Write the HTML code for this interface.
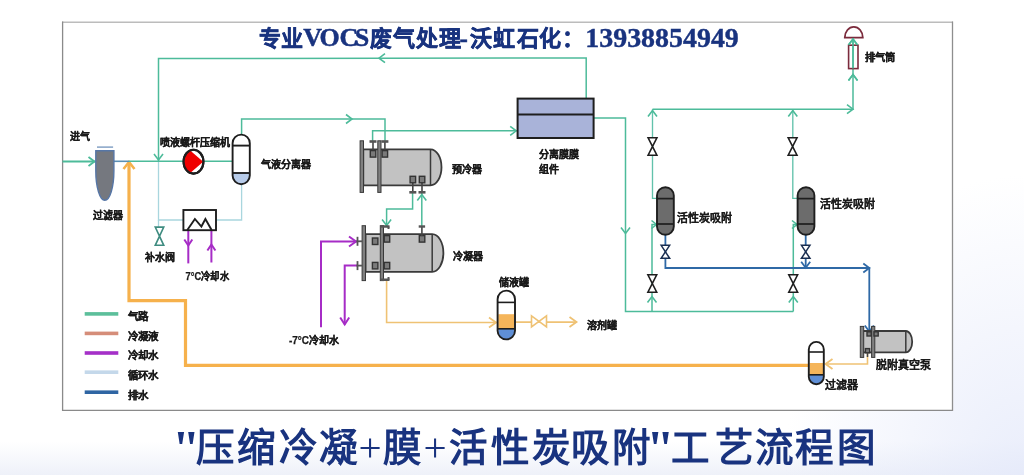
<!DOCTYPE html>
<html lang="zh-CN"><head><meta charset="utf-8"><title>工艺流程图</title>
<style>
html,body{margin:0;padding:0;}
body{width:1024px;height:475px;overflow:hidden;position:relative;background:#fff;font-family:"Liberation Sans",sans-serif;}
.bg{position:absolute;left:0;top:0;width:1024px;height:475px;background:linear-gradient(180deg,#ffffff 0%,#ffffff 93%,#eef1f9 100%);}
.bg2{position:absolute;left:0;top:0;width:1024px;height:475px;background:radial-gradient(ellipse 240px 300px at 1024px 475px,rgba(228,233,250,0.8),rgba(255,255,255,0));}
svg{position:absolute;left:0;top:0;will-change:transform;}
</style></head><body>
<div class="bg"></div><div class="bg2"></div>
<svg width="1024" height="475" viewBox="0 0 1024 475">
<rect x="62.5" y="22.2" width="890" height="388.2" fill="#fff" stroke="none"/>
<line x1="62" y1="22.2" x2="953" y2="22.2" stroke="#bcbcbc" stroke-width="1.5"/>
<line x1="62.6" y1="21.6" x2="62.6" y2="411" stroke="#8a8a8a" stroke-width="1.3"/>
<line x1="62" y1="410.4" x2="953" y2="410.4" stroke="#8a8a8a" stroke-width="1.3"/>
<line x1="952.5" y1="21.6" x2="952.5" y2="411" stroke="#8e8e8e" stroke-width="1.3"/>
<text x="259.1 281.4" y="46.4" font-family='"Liberation Serif",serif' font-size="22" font-weight="bold" fill="#19337f" stroke="#19337f" stroke-width="0.5">专业</text>
<text x="303.2 319.4 339.4 354.8" y="46.4" font-family='"Liberation Serif",serif' font-size="26" font-weight="bold" fill="#19337f" stroke="#19337f" stroke-width="0.5">VOCS</text>
<text x="370.4 392.7 415.5 438.5" y="46.4" font-family='"Liberation Serif",serif' font-size="22" font-weight="bold" fill="#19337f" stroke="#19337f" stroke-width="0.5">废气处理</text>
<text x="459.4" y="46.6" font-family='"Liberation Serif",serif' font-size="25" font-weight="bold" fill="#19337f" stroke="#19337f" stroke-width="0.5">-</text>
<text x="470.2 493.4 516.5 538.6" y="46.4" font-family='"Liberation Serif",serif' font-size="22" font-weight="bold" fill="#19337f" stroke="#19337f" stroke-width="0.5">沃虹石化</text>
<text x="561.5" y="46.4" font-family='"Liberation Serif",serif' font-size="22" font-weight="bold" fill="#19337f" stroke="#19337f" stroke-width="0.5">：</text>
<text x="585.3" y="46.7" font-family='"Liberation Serif",serif' font-size="27" font-weight="bold" fill="#19337f" stroke="#19337f" stroke-width="0.4" textLength="153.5" lengthAdjust="spacingAndGlyphs">13938854949</text>
<text x="172.2" y="464.5" font-family='"Liberation Serif",serif' font-size="50" font-weight="bold" fill="#19337f">"</text>
<text x="196.0 236.6 278.6 319.2" y="460.8" font-family='"Liberation Serif",serif' font-size="38.5" font-weight="bold" fill="#19337f">压缩冷凝</text>
<text x="358.5" y="460.8" font-family='"Liberation Serif",serif' font-size="41" font-weight="normal" fill="#19337f">+</text>
<text x="382.5" y="460.8" font-family='"Liberation Serif",serif' font-size="38.5" font-weight="bold" fill="#19337f">膜</text>
<text x="423.5" y="460.8" font-family='"Liberation Serif",serif' font-size="41" font-weight="normal" fill="#19337f">+</text>
<text x="449.3 491.0 532.1 570.8 612.3" y="460.8" font-family='"Liberation Serif",serif' font-size="38.5" font-weight="bold" fill="#19337f">活性炭吸附</text>
<text x="646.4" y="464.5" font-family='"Liberation Serif",serif' font-size="50" font-weight="bold" fill="#19337f">"</text>
<text x="671.1 714.8 754.8 795.3 836.5" y="460.8" font-family='"Liberation Serif",serif' font-size="38.5" font-weight="bold" fill="#19337f">工艺流程图</text>
<rect x="84.7" y="312.09999999999997" width="33.6" height="3.6" fill="#5cbf9b"/>
<text x="128" y="320.2" font-family='"Liberation Sans",sans-serif' font-size="10.5" font-weight="bold" fill="#1a1a1a" stroke="#1a1a1a" stroke-width="0.25">气路</text>
<rect x="84.7" y="331.59999999999997" width="33.6" height="3.6" fill="#d58d79"/>
<text x="128" y="339.7" font-family='"Liberation Sans",sans-serif' font-size="10.5" font-weight="bold" fill="#1a1a1a" stroke="#1a1a1a" stroke-width="0.25">冷凝液</text>
<rect x="84.7" y="351.2" width="33.6" height="3.6" fill="#a530c8"/>
<text x="128" y="359.3" font-family='"Liberation Sans",sans-serif' font-size="10.5" font-weight="bold" fill="#1a1a1a" stroke="#1a1a1a" stroke-width="0.25">冷却水</text>
<rect x="84.7" y="370.4" width="33.6" height="3.6" fill="#c4d8ea"/>
<text x="128" y="378.5" font-family='"Liberation Sans",sans-serif' font-size="10.5" font-weight="bold" fill="#1a1a1a" stroke="#1a1a1a" stroke-width="0.25">循环水</text>
<rect x="84.7" y="390.4" width="33.6" height="3.6" fill="#2f65a3"/>
<text x="128" y="398.5" font-family='"Liberation Sans",sans-serif' font-size="10.5" font-weight="bold" fill="#1a1a1a" stroke="#1a1a1a" stroke-width="0.25">排水</text>
<path d="M158.5,161 L158.5,220 L183.3,220" fill="none" stroke="#a9d6de" stroke-width="1.3" stroke-linejoin="miter" />
<path d="M158.5,220 L158.5,227" fill="none" stroke="#a9d6de" stroke-width="1.3" stroke-linejoin="miter" />
<path d="M241.6,184 L241.6,220 L216,220" fill="none" stroke="#a9d6de" stroke-width="1.3" stroke-linejoin="miter" />
<path d="M129,163 L129,300.6 L185.5,300.6 L185.5,365.3 L809,365.3" fill="none" stroke="#f6b14c" stroke-width="3.2" stroke-linejoin="miter" />
<path d="M123.5,169 L129,162 L134.5,169" fill="none" stroke="#f6b14c" stroke-width="2.6" stroke-linejoin="miter" />
<path d="M62.5,161.5 L95.5,161.5" fill="none" stroke="#4dbb9a" stroke-width="1.8" stroke-linejoin="miter" />
<path d="M88.5,157.0 L94.5,161.5 L88.5,166.0" fill="none" stroke="#4dbb9a" stroke-width="1.8" stroke-linejoin="miter" />
<path d="M114,161.3 L129,161.3" fill="none" stroke="#5a8fb4" stroke-width="1.6" stroke-linejoin="miter" />
<path d="M129,161.3 L232.5,161.3" fill="none" stroke="#4dbb9a" stroke-width="1.5" stroke-linejoin="miter" />
<path d="M158.5,161 L158.5,58.5 L586.2,58 L586.2,98.5" fill="none" stroke="#4dbb9a" stroke-width="1.5" stroke-linejoin="miter" />
<path d="M154.0,154 L158.5,160 L163.0,154" fill="none" stroke="#4dbb9a" stroke-width="1.6" stroke-linejoin="miter" />
<path d="M385,53.7 L379,58.2 L385,62.7" fill="none" stroke="#4dbb9a" stroke-width="1.6" stroke-linejoin="miter" />
<path d="M241.6,134.5 L241.6,119 L385,119 L385,141" fill="none" stroke="#4dbb9a" stroke-width="1.5" stroke-linejoin="miter" />
<path d="M346,114.5 L352,119 L346,123.5" fill="none" stroke="#4dbb9a" stroke-width="1.6" stroke-linejoin="miter" />
<path d="M372.6,141 L372.6,130.8 L516.5,130.8" fill="none" stroke="#4dbb9a" stroke-width="1.5" stroke-linejoin="miter" />
<path d="M510.20000000000005,126.30000000000001 L516.2,130.8 L510.20000000000005,135.3" fill="none" stroke="#4dbb9a" stroke-width="1.6" stroke-linejoin="miter" />
<path d="M594,118 L625.5,118 L625.5,311.6 L793.3,311.6" fill="none" stroke="#4dbb9a" stroke-width="1.5" stroke-linejoin="miter" />
<path d="M621.0,227.4 L625.5,233.4 L630.0,227.4" fill="none" stroke="#4dbb9a" stroke-width="1.6" stroke-linejoin="miter" />
<path d="M652.5,109.2 L652.5,198.4 L657,198.4" fill="none" stroke="#62c2ab" stroke-width="1.35" stroke-linejoin="miter" />
<path d="M652,311.6 L652,224.5 L657,224.5" fill="none" stroke="#4dbb9a" stroke-width="1.5" stroke-linejoin="miter" />
<path d="M651.5,220.5 L656.5,224.5 L651.5,228.5" fill="none" stroke="#4dbb9a" stroke-width="1.6" stroke-linejoin="miter" />
<path d="M647.5,302.5 L652,296.5 L656.5,302.5" fill="none" stroke="#4dbb9a" stroke-width="1.6" stroke-linejoin="miter" />
<path d="M792.8,109.2 L792.8,198.4 L797.5,198.4" fill="none" stroke="#62c2ab" stroke-width="1.35" stroke-linejoin="miter" />
<path d="M793.3,311.6 L793.3,224.5 L797.5,224.5" fill="none" stroke="#4dbb9a" stroke-width="1.5" stroke-linejoin="miter" />
<path d="M792,220.5 L797,224.5 L792,228.5" fill="none" stroke="#4dbb9a" stroke-width="1.6" stroke-linejoin="miter" />
<path d="M788.8,302.5 L793.3,296.5 L797.8,302.5" fill="none" stroke="#4dbb9a" stroke-width="1.6" stroke-linejoin="miter" />
<path d="M652.5,109.2 L853,109.2 L853,38" fill="none" stroke="#4dbb9a" stroke-width="1.5" stroke-linejoin="miter" />
<path d="M847,104.7 L853,109.2 L847,113.7" fill="none" stroke="#4dbb9a" stroke-width="1.6" stroke-linejoin="miter" />
<path d="M648.0,116.5 L652.5,110.5 L657.0,116.5" fill="none" stroke="#4dbb9a" stroke-width="1.6" stroke-linejoin="miter" />
<path d="M788.3,116.5 L792.8,110.5 L797.3,116.5" fill="none" stroke="#4dbb9a" stroke-width="1.6" stroke-linejoin="miter" />
<path d="M848.5,80.5 L853,74.5 L857.5,80.5" fill="none" stroke="#4dbb9a" stroke-width="1.6" stroke-linejoin="miter" />
<path d="M848.5,45 L853,39 L857.5,45" fill="none" stroke="#4dbb9a" stroke-width="1.6" stroke-linejoin="miter" />
<path d="M412.6,192 L412.6,209 L386.6,209 L386.6,226" fill="none" stroke="#4dbb9a" stroke-width="1.5" stroke-linejoin="miter" />
<path d="M382.1,219.4 L386.6,225.4 L391.1,219.4" fill="none" stroke="#4dbb9a" stroke-width="1.6" stroke-linejoin="miter" />
<path d="M421.8,226 L421.8,193" fill="none" stroke="#4dbb9a" stroke-width="1.5" stroke-linejoin="miter" />
<path d="M417.3,200.5 L421.8,194.5 L426.3,200.5" fill="none" stroke="#4dbb9a" stroke-width="1.6" stroke-linejoin="miter" />
<path d="M188.3,230 L188.3,263.4" fill="none" stroke="#a62cc6" stroke-width="2" stroke-linejoin="miter" />
<path d="M184.3,239.5 L188.3,245.5 L192.3,239.5" fill="none" stroke="#a62cc6" stroke-width="2" stroke-linejoin="miter" />
<path d="M211.4,262.5 L211.4,230" fill="none" stroke="#a62cc6" stroke-width="2" stroke-linejoin="miter" />
<path d="M207.4,250.5 L211.4,244.5 L215.4,250.5" fill="none" stroke="#a62cc6" stroke-width="2" stroke-linejoin="miter" />
<path d="M321,327.2 L321,241.5 L357,241.5" fill="none" stroke="#a62cc6" stroke-width="2" stroke-linejoin="miter" />
<path d="M349,236.5 L356,241.5 L349,246.5" fill="none" stroke="#a62cc6" stroke-width="2" stroke-linejoin="miter" />
<path d="M357,265.5 L344.7,265.5 L344.7,324.5" fill="none" stroke="#a62cc6" stroke-width="2" stroke-linejoin="miter" />
<path d="M340.2,317.5 L344.7,324.5 L349.2,317.5" fill="none" stroke="#a62cc6" stroke-width="2" stroke-linejoin="miter" />
<path d="M386.6,281 L386.6,322.5 L497,322.5" fill="none" stroke="#efc274" stroke-width="1.6" stroke-linejoin="miter" />
<path d="M489,317.5 L496,322.5 L489,327.5" fill="none" stroke="#efc274" stroke-width="1.8" stroke-linejoin="miter" />
<path d="M515,322.1 L577,322.1" fill="none" stroke="#efc274" stroke-width="1.6" stroke-linejoin="miter" />
<path d="M569.5,317.1 L576.5,322.1 L569.5,327.1" fill="none" stroke="#efc274" stroke-width="1.8" stroke-linejoin="miter" />
<path d="M531.5,315.9 L546.5,326.9 L546.5,315.9 L531.5,326.9 Z" fill="#fff" stroke="#efc274" stroke-width="1.6" stroke-linejoin="miter"/>
<path d="M867.5,352.5 L867.5,364 L826,364" fill="none" stroke="#efc274" stroke-width="1.6" stroke-linejoin="miter" />
<path d="M832.5,359 L825.5,364 L832.5,369" fill="none" stroke="#efc274" stroke-width="1.8" stroke-linejoin="miter" />
<path d="M665.4,234.8 L665.4,268 L869.3,268 L869.3,332" fill="none" stroke="#2f69a6" stroke-width="1.8" stroke-linejoin="miter" />
<path d="M863.3,263.5 L869.3,268 L863.3,272.5" fill="none" stroke="#2f69a6" stroke-width="1.8" stroke-linejoin="miter" />
<path d="M864.8,325.5 L869.3,331.5 L873.8,325.5" fill="none" stroke="#2f69a6" stroke-width="1.8" stroke-linejoin="miter" />
<path d="M805.7,234.8 L805.7,268" fill="none" stroke="#2f69a6" stroke-width="1.8" stroke-linejoin="miter" />
<path d="M801.2,261.8 L805.7,267.8 L810.2,261.8" fill="none" stroke="#2f69a6" stroke-width="1.8" stroke-linejoin="miter" />
<path d="M661.15,245.3 L669.65,245.3 L661.15,258.3 L669.65,258.3 Z" fill="#fff" stroke="#1b2e50" stroke-width="1.5" stroke-linejoin="miter"/>
<path d="M801.45,245.3 L809.95,245.3 L801.45,258.3 L809.95,258.3 Z" fill="#fff" stroke="#1b2e50" stroke-width="1.5" stroke-linejoin="miter"/>
<path d="M648.1,137.75 L656.9,137.75 L648.1,155.25 L656.9,155.25 Z" fill="#fff" stroke="#1e1e1e" stroke-width="1.6" stroke-linejoin="miter"/>
<path d="M788.2,137.75 L797.0,137.75 L788.2,155.25 L797.0,155.25 Z" fill="#fff" stroke="#1e1e1e" stroke-width="1.6" stroke-linejoin="miter"/>
<path d="M647.9,274.75 L656.6999999999999,274.75 L647.9,292.25 L656.6999999999999,292.25 Z" fill="#fff" stroke="#1e1e1e" stroke-width="1.6" stroke-linejoin="miter"/>
<path d="M788.8000000000001,274.75 L797.6,274.75 L788.8000000000001,292.25 L797.6,292.25 Z" fill="#fff" stroke="#1e1e1e" stroke-width="1.6" stroke-linejoin="miter"/>
<path d="M155.25,227.1 L163.75,227.1 L155.25,245.29999999999998 L163.75,245.29999999999998 Z" fill="#fff" stroke="#3f8c80" stroke-width="1.6" stroke-linejoin="miter"/>
<line x1="97" y1="147.1" x2="113.1" y2="147.1" stroke="#7c9cc2" stroke-width="1.4"/>
<path d="M95.8,150.7 L113.9,150.7 L113.9,171 A9.05,29.3 0 0 1 95.8,171 Z" fill="#75787f" stroke="#5676a6" stroke-width="1.4"/>
<ellipse cx="193.5" cy="161.7" rx="9.9" ry="11.9" fill="#fff" stroke="#1e1e1e" stroke-width="2.1"/>
<path d="M190.2,150.4 L203.2,161.8 L190.2,173 A9.9,11.9 0 0 1 190.2,150.4 Z" fill="#f00000"/>
<ellipse cx="193.5" cy="161.7" rx="9.9" ry="11.9" fill="none" stroke="#1e1e1e" stroke-width="2.1"/>
<path d="M232.6,173 L249.8,173 L249.8,176 A8.6,8.6 0 0 1 232.6,176 Z" fill="#b7cbe9"/>
<rect x="232.6" y="134.6" width="17.200000000000017" height="49.599999999999994" rx="8.600000000000009" ry="8.600000000000009" fill="none" stroke="#1e1e1e" stroke-width="1.9"/>
<line x1="232.6" y1="145.6" x2="249.8" y2="145.6" stroke="#1e1e1e" stroke-width="1.9"/>
<line x1="232.6" y1="173" x2="249.8" y2="173" stroke="#1e1e1e" stroke-width="1.9"/>
<rect x="183.4" y="210" width="32.6" height="20.2" fill="#fff" stroke="#1e1e1e" stroke-width="1.9"/>
<path d="M187.3,230 L194.9,219 L201.4,226.5 L205.4,219 L211.6,230" fill="none" stroke="#1e1e1e" stroke-width="1.9"/>
<path d="M363.3,149.3 L430.5,149.3 A11.0,18.0 0 0 1 430.5,185.3 L363.3,185.3 Z" fill="#c2c2c2" stroke="#3a3a3a" stroke-width="1.8"/>
<line x1="430.5" y1="149.3" x2="430.5" y2="185.3" stroke="#3a3a3a" stroke-width="1.5"/>
<rect x="360.1" y="140.8" width="3.4" height="51.599999999999994" fill="#808080" stroke="#3a3a3a" stroke-width="1"/>
<rect x="377.8" y="140.8" width="3.2" height="51.599999999999994" fill="#808080" stroke="#3a3a3a" stroke-width="1"/>
<line x1="373.0" y1="141.5" x2="373.0" y2="151" stroke="#444" stroke-width="1.6"/>
<rect x="369.5" y="140.2" width="7" height="2.6" fill="#555"/>
<line x1="384.9" y1="141.5" x2="384.9" y2="151" stroke="#444" stroke-width="1.6"/>
<rect x="381.4" y="140.2" width="7" height="2.6" fill="#555"/>
<line x1="412.8" y1="183" x2="412.8" y2="192.3" stroke="#444" stroke-width="1.6"/>
<rect x="409.3" y="191" width="7" height="2.6" fill="#555"/>
<line x1="422.0" y1="183" x2="422.0" y2="192.3" stroke="#444" stroke-width="1.6"/>
<rect x="418.5" y="191" width="7" height="2.6" fill="#555"/>
<rect x="370.3" y="150.6" width="5.5" height="6.5" fill="#7a7a7a" stroke="#333" stroke-width="1.4"/>
<rect x="382.1" y="150.6" width="5.5" height="6.5" fill="#7a7a7a" stroke="#333" stroke-width="1.4"/>
<rect x="410.1" y="176.3" width="5.5" height="6.5" fill="#7a7a7a" stroke="#333" stroke-width="1.4"/>
<rect x="419.3" y="176.3" width="5.5" height="6.5" fill="#7a7a7a" stroke="#333" stroke-width="1.4"/>
<path d="M365.6,234.1 L432.2,234.1 A11.199999999999989,18.89999999999999 0 0 1 432.2,271.9 L365.6,271.9 Z" fill="#c2c2c2" stroke="#3a3a3a" stroke-width="1.8"/>
<line x1="432.2" y1="234.1" x2="432.2" y2="271.9" stroke="#3a3a3a" stroke-width="1.5"/>
<rect x="362.1" y="225.7" width="3.4" height="54.900000000000034" fill="#808080" stroke="#3a3a3a" stroke-width="1"/>
<rect x="380.3" y="225.7" width="3.2" height="54.900000000000034" fill="#808080" stroke="#3a3a3a" stroke-width="1"/>
<path d="M380.5,226.5 L389.5,226.5 M380.5,279.8 L389.5,279.8" stroke="#555" stroke-width="2.4"/>
<path d="M388.5,226.5 L388.5,229 M388.5,279.8 L388.5,277" stroke="#555" stroke-width="2"/>
<rect x="372.4" y="238.0" width="5.5" height="6.5" fill="#7a7a7a" stroke="#333" stroke-width="1.4"/>
<rect x="372.4" y="262.4" width="5.5" height="6.5" fill="#7a7a7a" stroke="#333" stroke-width="1.4"/>
<rect x="384.2" y="235.6" width="5.5" height="6.5" fill="#7a7a7a" stroke="#333" stroke-width="1.4"/>
<rect x="384.2" y="262.4" width="5.5" height="6.5" fill="#7a7a7a" stroke="#333" stroke-width="1.4"/>
<rect x="419.3" y="235.6" width="5.5" height="6.5" fill="#7a7a7a" stroke="#333" stroke-width="1.4"/>
<line x1="421.9" y1="226.5" x2="421.9" y2="236" stroke="#444" stroke-width="1.6"/>
<rect x="418.7" y="225.3" width="6.4" height="2.4" fill="#555"/>
<line x1="356.5" y1="241.3" x2="362" y2="241.3" stroke="#555" stroke-width="1.8"/>
<rect x="356.6" y="236.8" width="1.8" height="9" fill="#555"/>
<line x1="356.5" y1="265.6" x2="362" y2="265.6" stroke="#555" stroke-width="1.8"/>
<rect x="356.6" y="261.1" width="1.8" height="9" fill="#555"/>
<rect x="517.6" y="98.6" width="76" height="39.4" fill="#a9b3d9" stroke="#1e1e1e" stroke-width="2"/>
<line x1="517.6" y1="114.6" x2="593.6" y2="114.6" stroke="#1e1e1e" stroke-width="2"/>
<rect x="498.3" y="314.2" width="16" height="14" fill="#f5b55a"/>
<path d="M498.3,328.8 L514.3,328.8 L514.3,331 A8,8 0 0 1 498.3,331 Z" fill="#5f8fd6"/>
<rect x="497.6" y="290.6" width="17.399999999999977" height="48.799999999999955" rx="8.699999999999989" ry="8.699999999999989" fill="none" stroke="#1e1e1e" stroke-width="1.9"/>
<line x1="497.6" y1="302.4" x2="515" y2="302.4" stroke="#1e1e1e" stroke-width="1.6"/>
<line x1="497.6" y1="328.8" x2="515" y2="328.8" stroke="#1e1e1e" stroke-width="1.6"/>
<rect x="657.0" y="187.2" width="16.799999999999955" height="47.60000000000002" rx="8.399999999999977" ry="8.399999999999977" fill="#6c6c6c" stroke="#1e1e1e" stroke-width="1.9"/>
<line x1="657.0" y1="198.6" x2="673.8" y2="198.6" stroke="#1e1e1e" stroke-width="1.7"/>
<line x1="657.0" y1="224" x2="673.8" y2="224" stroke="#1e1e1e" stroke-width="1.7"/>
<rect x="797.6" y="187.2" width="16.799999999999955" height="47.60000000000002" rx="8.399999999999977" ry="8.399999999999977" fill="#6c6c6c" stroke="#1e1e1e" stroke-width="1.9"/>
<line x1="797.6" y1="198.6" x2="814.4" y2="198.6" stroke="#1e1e1e" stroke-width="1.7"/>
<line x1="797.6" y1="224" x2="814.4" y2="224" stroke="#1e1e1e" stroke-width="1.7"/>
<path d="M844.8,37.6 A9,10.8 0 0 1 862.8,37.6 Z" fill="#fff" stroke="#7b2b3c" stroke-width="1.8"/>
<rect x="848.6" y="45.2" width="9.4" height="23.4" fill="none" stroke="#7b2b3c" stroke-width="1.6"/>
<path d="M853,68.6 L853,38" fill="none" stroke="#4dbb9a" stroke-width="1.5" stroke-linejoin="miter" />
<path d="M848.5,45 L853,39 L857.5,45" fill="none" stroke="#4dbb9a" stroke-width="1.6" stroke-linejoin="miter" />
<path d="M848.5,80.5 L853,74.5 L857.5,80.5" fill="none" stroke="#4dbb9a" stroke-width="1.6" stroke-linejoin="miter" />
<path d="M862.7,331.0 L905.8,331.0 A6.400000000000091,10.650000000000006 0 0 1 905.8,352.3 L862.7,352.3 Z" fill="#c2c2c2" stroke="#3a3a3a" stroke-width="1.8"/>
<line x1="905.8" y1="331.0" x2="905.8" y2="352.3" stroke="#3a3a3a" stroke-width="1.5"/>
<rect x="860.3" y="326.4" width="3.4" height="31.0" fill="#808080" stroke="#3a3a3a" stroke-width="1"/>
<rect x="871.6" y="326.4" width="3.2" height="31.0" fill="#808080" stroke="#3a3a3a" stroke-width="1"/>
<rect x="867.0" y="331.8" width="4.2" height="4.2" fill="#7a7a7a" stroke="#333" stroke-width="1.4"/>
<rect x="874.0" y="331.8" width="4.2" height="4.2" fill="#7a7a7a" stroke="#333" stroke-width="1.4"/>
<rect x="865.4" y="348.6" width="4.2" height="4.2" fill="#7a7a7a" stroke="#333" stroke-width="1.4"/>
<line x1="867.5" y1="352.5" x2="867.5" y2="357" stroke="#444" stroke-width="1.5"/>
<rect x="809.5" y="363" width="13.6" height="11.8" fill="#f5b55a"/>
<path d="M809.5,374.8 L823.1,374.8 L823.1,377 A6.8,6.8 0 0 1 809.5,377 Z" fill="#5f8fd6"/>
<rect x="808.8" y="341.9" width="15.0" height="42.30000000000001" rx="7.5" ry="7.5" fill="none" stroke="#1e1e1e" stroke-width="1.9"/>
<line x1="808.8" y1="352" x2="823.8" y2="352" stroke="#1e1e1e" stroke-width="1.6"/>
<line x1="808.8" y1="374.8" x2="823.8" y2="374.8" stroke="#1e1e1e" stroke-width="1.6"/>
<text x="70" y="139.5" font-family='"Liberation Sans",sans-serif' font-size="10" font-weight="bold" fill="#1a1a1a" stroke="#1a1a1a" stroke-width="0.25">进气</text>
<text x="92.5" y="219.3" font-family='"Liberation Sans",sans-serif' font-size="10" font-weight="bold" fill="#1a1a1a" stroke="#1a1a1a" stroke-width="0.25">过滤器</text>
<text x="159.8" y="145.5" font-family='"Liberation Sans",sans-serif' font-size="10" font-weight="bold" fill="#1a1a1a" stroke="#1a1a1a" stroke-width="0.25">喷液螺杆压缩机</text>
<text x="261" y="168.3" font-family='"Liberation Sans",sans-serif' font-size="10" font-weight="bold" fill="#1a1a1a" stroke="#1a1a1a" stroke-width="0.25">气液分离器</text>
<text x="144.7" y="261" font-family='"Liberation Sans",sans-serif' font-size="10" font-weight="bold" fill="#1a1a1a" stroke="#1a1a1a" stroke-width="0.25">补水阀</text>
<text x="185.5" y="279.5" font-family='"Liberation Sans",sans-serif' font-size="10" font-weight="bold" fill="#1a1a1a" stroke="#1a1a1a" stroke-width="0.25" textLength="43.5" lengthAdjust="spacingAndGlyphs">7°C冷却水</text>
<text x="289" y="344.0" font-family='"Liberation Sans",sans-serif' font-size="10" font-weight="bold" fill="#1a1a1a" stroke="#1a1a1a" stroke-width="0.25" textLength="50" lengthAdjust="spacingAndGlyphs">-7°C冷却水</text>
<text x="451.9" y="173.4" font-family='"Liberation Sans",sans-serif' font-size="10" font-weight="bold" fill="#1a1a1a" stroke="#1a1a1a" stroke-width="0.25">预冷器</text>
<text x="452.6" y="259.7" font-family='"Liberation Sans",sans-serif' font-size="10" font-weight="bold" fill="#1a1a1a" stroke="#1a1a1a" stroke-width="0.25">冷凝器</text>
<text x="498.6" y="286.3" font-family='"Liberation Sans",sans-serif' font-size="10" font-weight="bold" fill="#1a1a1a" stroke="#1a1a1a" stroke-width="0.25">储液罐</text>
<text x="587.4" y="329.0" font-family='"Liberation Sans",sans-serif' font-size="10" font-weight="bold" fill="#1a1a1a" stroke="#1a1a1a" stroke-width="0.25">溶剂罐</text>
<text x="539" y="158" font-family='"Liberation Sans",sans-serif' font-size="10" font-weight="bold" fill="#1a1a1a" stroke="#1a1a1a" stroke-width="0.25">分离膜膜</text>
<text x="539" y="172.9" font-family='"Liberation Sans",sans-serif' font-size="10" font-weight="bold" fill="#1a1a1a" stroke="#1a1a1a" stroke-width="0.25">组件</text>
<text x="677.2" y="222.1" font-family='"Liberation Sans",sans-serif' font-size="11" font-weight="bold" fill="#1a1a1a" stroke="#1a1a1a" stroke-width="0.1">活性炭吸附</text>
<text x="819.6" y="207.7" font-family='"Liberation Sans",sans-serif' font-size="11" font-weight="bold" fill="#1a1a1a" stroke="#1a1a1a" stroke-width="0.1">活性炭吸附</text>
<text x="864.8" y="60.6" font-family='"Liberation Sans",sans-serif' font-size="10.3" font-weight="bold" fill="#1a1a1a" stroke="#1a1a1a" stroke-width="0.25">排气筒</text>
<text x="875.6" y="368.6" font-family='"Liberation Sans",sans-serif' font-size="11" font-weight="bold" fill="#1a1a1a" stroke="#1a1a1a" stroke-width="0.1">脱附真空泵</text>
<text x="825.3" y="389.4" font-family='"Liberation Sans",sans-serif' font-size="11" font-weight="bold" fill="#1a1a1a" stroke="#1a1a1a" stroke-width="0.1">过滤器</text>
</svg>
</body></html>
